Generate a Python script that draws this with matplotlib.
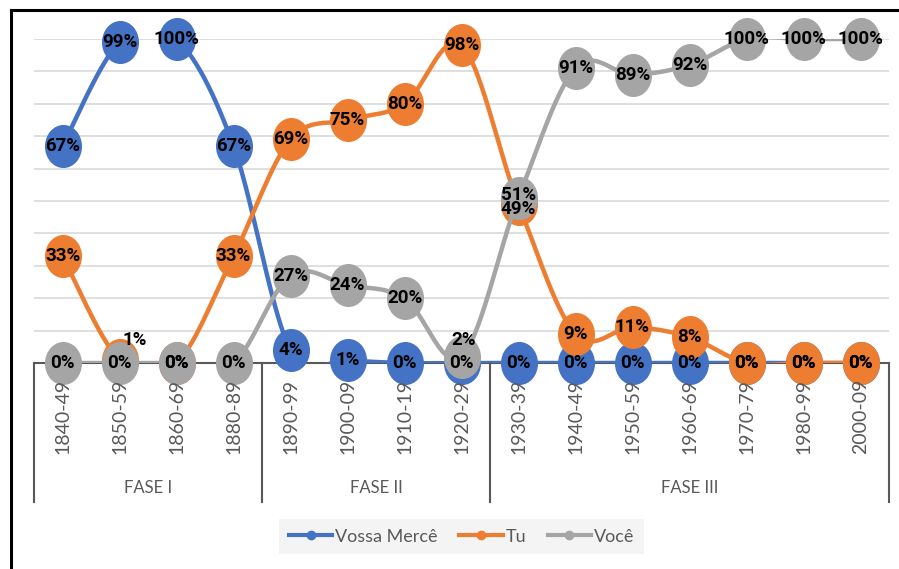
import numpy as np
import matplotlib
matplotlib.use('Agg')
import matplotlib.pyplot as plt
from matplotlib.lines import Line2D
from matplotlib.path import Path
from matplotlib.transforms import blended_transform_factory

#==============================================================================
# data
periods = ['1840-49', '1850-59', '1860-69', '1880-89', '1890-99', '1900-09',
           '1910-19', '1920-29', '1930-39', '1940-49', '1950-59', '1960-69',
           '1970-79', '1980-99', '2000-09']
fases = ['FASE I', 'FASE II', 'FASE III']
fase_sizes = [4, 4, 7]

vossa_merce = [67, 99, 100, 67, 4, 1, 0, 0, 0, 0, 0, 0, 0, 0, 0]
tu = [33, 1, 0, 33, 69, 75, 80, 98, 49, 9, 11, 8, 0, 0, 0]
voce = [0, 0, 0, 0, 27, 24, 20, 2, 51, 91, 89, 92, 100, 100, 100]

names = ['Vossa Mercê', 'Tu', 'Você']
colors = ['#4472C4', '#ED7D31', '#A5A5A5']
#==============================================================================

W, H = 899, 569
label_font = ['Roboto', 'DejaVu Sans']
axis_font = ['Lato', 'DejaVu Sans']
grey = '#595959'


def smooth(x, y, n=30):
    # excel-like smoothed line (catmull-rom bezier)
    x = np.asarray(x, float)
    y = np.asarray(y, float)
    P = np.column_stack([x, y])
    P = np.vstack([P[0], P, P[-1]])
    out = []
    t = np.linspace(0, 1, n)[:, None]
    for i in range(1, len(P) - 2):
        p0, p3 = P[i], P[i + 1]
        p1 = p0 + (P[i + 1] - P[i - 1]) / 6
        p2 = p3 - (P[i + 2] - P[i]) / 6
        seg = (1 - t)**3 * p0 + 3 * (1 - t)**2 * t * p1 + 3 * (1 - t) * t**2 * p2 + t**3 * p3
        out.append(seg)
    out = np.vstack(out)
    return out[:, 0], out[:, 1]


fig = plt.figure(figsize=(W / 100, H / 100), dpi=100)
ax = fig.add_axes([34 / W, 1 - 363 / H, 855 / W, 324 / H])
x = np.arange(len(periods))
ax.set_xlim(-0.5, len(periods) - 0.5)
ax.set_ylim(0, 1)

for v in np.arange(0.1, 1.01, 0.1):
    ax.axhline(v, color='#D9D9D9', lw=1.2, zorder=0)
ax.axhline(0, color=grey, lw=1.5, zorder=1, clip_on=False)

for s in ax.spines.values():
    s.set_visible(False)
ax.set_xticks([])
ax.set_yticks([])

circ = Path.unit_circle()
ell = Path(circ.vertices * np.array([0.86, 1.0]), circ.codes)

series = [vossa_merce, tu, voce]
z = 2
for vals, c in zip(series, colors):
    y = np.array(vals) / 100
    xs, ys = smooth(x, y)
    ax.plot(xs, ys, color=c, lw=3.2, zorder=z, solid_capstyle='round')
    ax.plot(x, y, ls='none', marker=ell, ms=31, color=c, mec=c, mew=0,
            zorder=z + 1, clip_on=False)
    z += 2

# data labels (a few are moved off crowded spots, as in the original)
nudge = {(1, 1): (11, 14), (2, 7): (1.5, 12), (1, 8): (0, -3.5), (2, 8): (0, 2)}
for k, vals in enumerate(series):
    for i, v in enumerate(vals):
        dx, dy = nudge.get((k, i), (0, 0))
        ax.annotate(f'{v}%', (i, v / 100), xytext=(dx, dy), textcoords='offset points',
                    ha='center', va='center', fontsize=13.5, fontweight='bold',
                    family=label_font, color='black', zorder=20, annotation_clip=False)

# multi level category axis
tr = blended_transform_factory(ax.transData, fig.transFigure)
bounds = np.concatenate([[0], np.cumsum(fase_sizes)]) - 0.5
for b in bounds:
    fig.add_artist(Line2D([b, b], [1 - 363 / H, 1 - 502 / H], transform=tr,
                          color=grey, lw=1.5))
for i, p in enumerate(periods):
    fig.text(i, 1 - 379 / H, p, transform=tr, rotation=90, ha='center', va='top',
             fontsize=14, family=axis_font, color=grey)
for k, f in enumerate(fases):
    fig.text((bounds[k] + bounds[k + 1]) / 2, 1 - 488 / H, f, transform=tr,
             ha='center', va='center', fontsize=12, family=axis_font, color=grey)

# legend
handles = [Line2D([], [], color=c, lw=3, marker='o', ms=6) for c in colors]
leg = fig.legend(handles, names, loc='center', bbox_to_anchor=(461.5 / W, 1 - 536.5 / H),
                 ncol=3, frameon=True, facecolor='#F2F2F2', edgecolor='none',
                 fancybox=False, handlelength=2.4, handletextpad=0.15,
                 columnspacing=1.2, borderpad=0.55, prop={'family': axis_font, 'size': 13})
for t in leg.get_texts():
    t.set_color(grey)

# outer frame (left and top only)
fig.add_artist(Line2D([11 / W, 11 / W], [0, 1 - 10 / H], color='black', lw=2.2))
fig.add_artist(Line2D([11 / W, 1], [1 - 10 / H, 1 - 10 / H], color='black', lw=2.2))

plt.savefig('out.png', dpi=100)
